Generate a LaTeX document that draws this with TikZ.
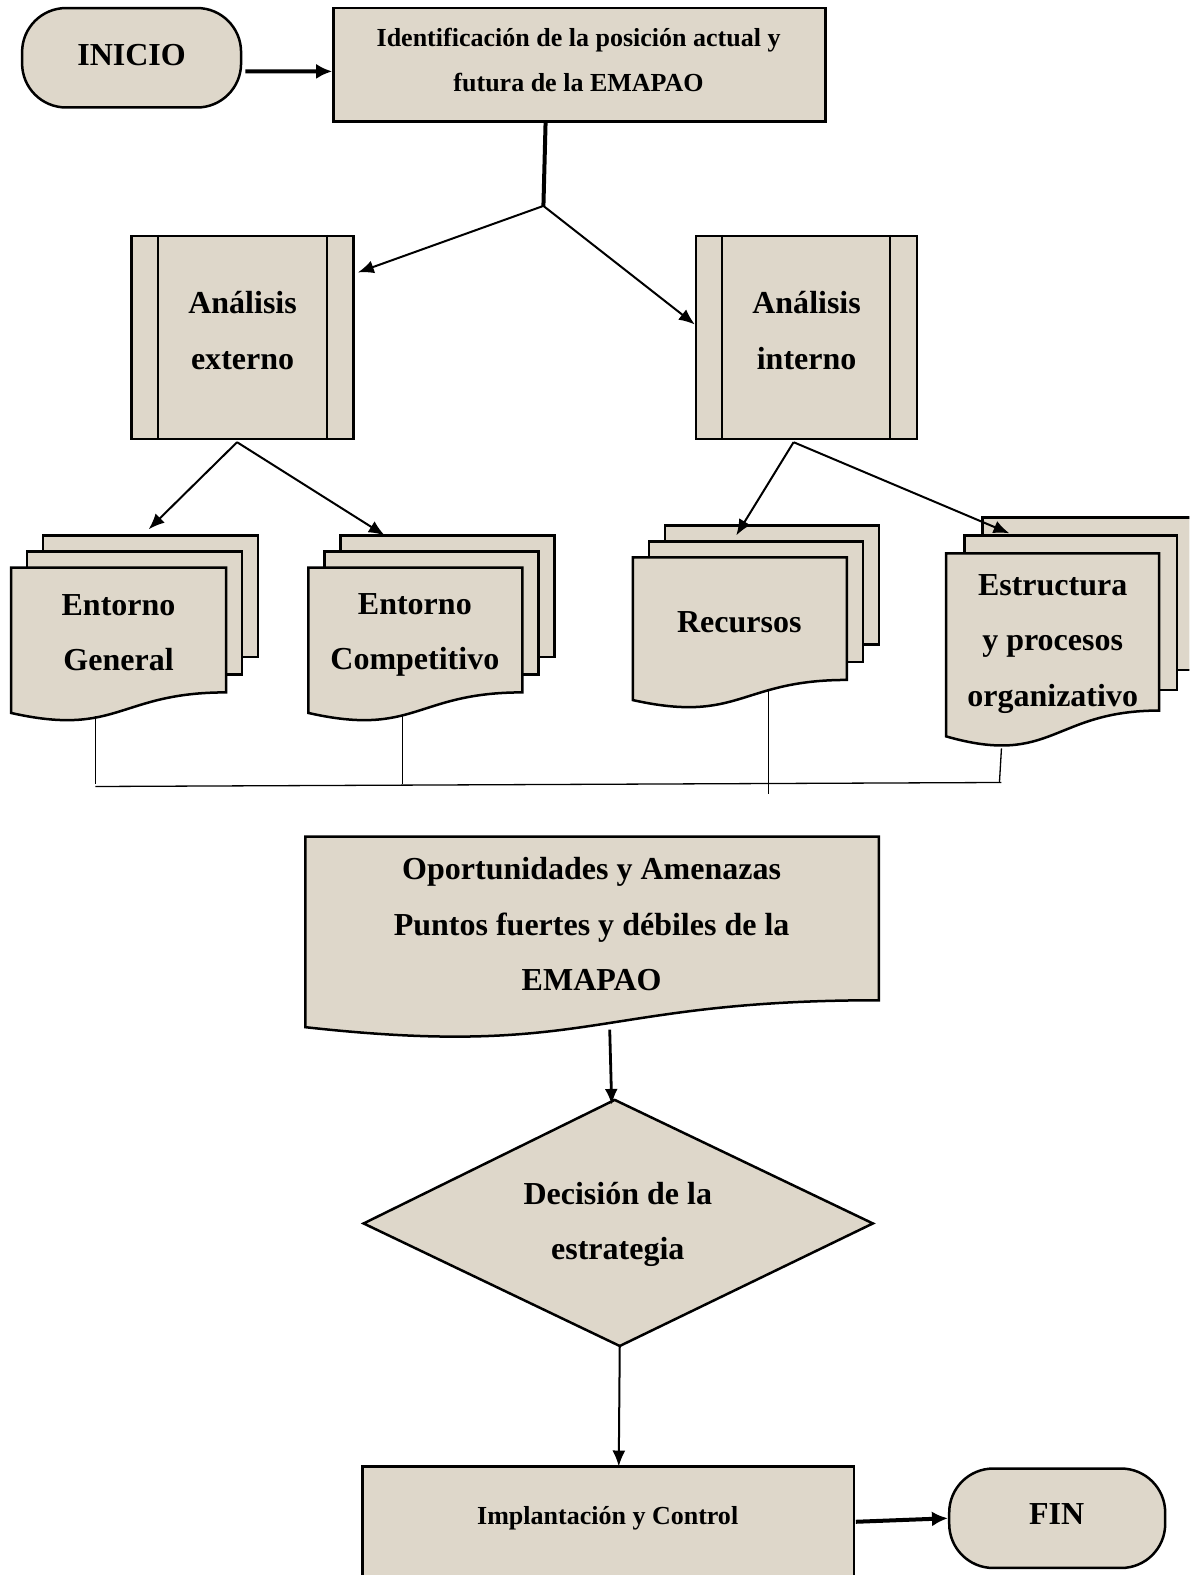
\documentclass[tikz,border=0pt]{standalone}
\usepackage{fontspec}
\setmainfont{Liberation Serif}
\usetikzlibrary{arrows.meta,fit,calc}
\definecolor{paper}{RGB}{222,215,202}

% a stack of three document sheets: name, left x, top y, width, height, offset
\newcommand{\multidoc}[6]{%
  \draw[sheet] ({#2+2*#6},{#3-2*#6}) rectangle ({#2+2*#6+#4},{#3+0.78*#5-2*#6});
  \draw[sheet] ({#2+#6},{#3-#6}) rectangle ({#2+#6+#4},{#3+0.79*#5-#6});
  \docsheet{#1}{#2}{#3}{#4}{#5}}
% a single document sheet with a wavy lower edge
\newcommand{\docsheet}[5]{%
  \draw[sheet] (#2,#3) -- ({#2+#4},#3) -- ({#2+#4},{#3+0.802*#5})
    .. controls ({#2+0.5*#4},{#3+0.802*#5}) and ({#2+0.5*#4},{#3+1.09*#5}) ..
    (#2,{#3+0.934*#5}) -- cycle;
  \coordinate (#1) at ({#2+0.5*#4},{#3+0.45*#5});}

\tikzset{
  sheet/.style={draw=black, line width=1.25pt, fill=paper},
  boxfit/.style={sheet, rectangle, inner sep=0pt},
  term/.style={sheet, rectangle, inner sep=0pt, rounded corners=22pt},
  lbl/.style={font=\bfseries\fontsize{16}{27.6}\selectfont, align=center, inner sep=0pt},
  lblsm/.style={font=\bfseries\fontsize{13}{22.6}\selectfont, align=center, inner sep=0pt},
  flow/.style={line width=1pt, -{Latex[length=8pt,width=6.5pt]}},
  heavy/.style={line width=2pt, -{Latex[length=8pt,width=7.5pt]}},
  tie/.style={line width=0.65pt},
  divider/.style={line width=1.1pt},
}

\begin{document}
\begin{tikzpicture}[x=0.5021pt, y=-0.5021pt]
\useasboundingbox (0,0) rectangle (1184,1568);
\clip (0,0) rectangle (1184,1568);

% start and first step
\node[term, fit={(22,8) (240,107)}] (inicio) {};
\node[lbl] (inicio-t) at (131,55) {INICIO};
\node[boxfit, fit={(332,8) (822,121)}] (ident) {};
\node[lblsm] (ident-t) at (576,59.5) {Identificación de la posición actual y\\futura de la EMAPAO};
\draw[heavy] ([xshift=1.5pt,yshift=-6.8pt]inicio.east) -- ([yshift=-3.3pt]ident.west);

% analysis boxes (predefined process)
\node[boxfit, fit={(131,235) (352,437)}] (ext) {};
\draw[divider] ([xshift=14pt]ext.north west) -- ([xshift=14pt]ext.south west)
  ([xshift=-14pt]ext.north east) -- ([xshift=-14pt]ext.south east);
\node[lbl] (ext-t) at (241.5,329) {Análisis\\externo};
\node[boxfit, fit={(693,235) (913,437)}] (int) {};
\draw[divider] ([xshift=13.5pt]int.north west) -- ([xshift=13.5pt]int.south west)
  ([xshift=-14pt]int.north east) -- ([xshift=-14pt]int.south east);
\node[lbl] (int-t) at (803,329) {Análisis\\interno};

\coordinate (fork) at (541,205);
\draw[line width=2pt] ([xshift=-17pt]ident.south) -- (fork);
\draw[flow] (fork) -- ([xshift=1.5pt,yshift=32.5pt]ext.east);
\draw[flow] (fork) -- ([yshift=6.5pt]int.west);

% document stacks
\multidoc{eg}{11}{565}{214}{155}{16}
\node[lbl] (eg-t) at (118,630) {Entorno\\General};
\multidoc{ec}{307}{565}{213}{155}{16}
\node[lbl] (ec-t) at (413,632) {Entorno\\Competitivo};
\multidoc{rec}{630}{555}{213}{152}{16}
\node[lbl] (rec-t) at (736,619) {Recursos};
\multidoc{est}{942}{551}{212}{195}{18}
\node[lbl] (est-t) at (1048,641) {Estructura\\y procesos\\organizativo};

\coordinate (eg-in) at (148,527);
\coordinate (ec-in) at (383,533);
\coordinate (rec-in) at (733,533);
\coordinate (est-in) at (1005,531);
\draw[flow] ([xshift=-2.75pt,yshift=-1pt]ext.south) -- (eg-in);
\draw[flow] ([xshift=-2.75pt,yshift=-1pt]ext.south) -- (ec-in);
\draw[flow] ([xshift=-6.5pt,yshift=-1pt]int.south) -- (rec-in);
\draw[flow] ([xshift=-6.5pt,yshift=-1pt]int.south) -- (est-in);

% thin collecting lines under the stacks
\coordinate (eg-out) at (95,713);
\coordinate (ec-out) at (401,713);
\coordinate (rec-out) at (765,687);
\coordinate (est-out) at (997,745);
\coordinate (bus-l) at (95,783);
\coordinate (bus-r) at (997,779);
\draw[tie] (eg-out) -- (95,781);
\draw[tie] (ec-out) -- (401,781);
\draw[tie] (bus-l) -- (bus-r);
\draw[tie] (rec-out) -- (765,790);
\draw[tie] (est-out) -- (995,779);

% summary document
\docsheet{opp}{304}{833}{571}{203}
\node[lbl] (opp-t) at (589,920) {Oportunidades y Amenazas\\Puntos fuertes y débiles de la\\EMAPAO};

% decision
\coordinate (dL) at (362,1218);
\coordinate (dT) at (612,1095);
\coordinate (dR) at (869,1218);
\coordinate (dB) at (617,1340);
\draw[sheet] (dL) -- (dT) -- (dR) -- (dB) -- cycle;
\node[lbl] (dec-t) at (615,1219) {Decisión de la\\estrategia};
\coordinate (opp-out) at (607,1025);
\coordinate (dec-in) at (609,1100);
\draw[flow, line width=1.4pt] (opp-out) -- (dec-in);

% implementation and end
\draw[sheet] (361,1460) rectangle (850,1600);
\coordinate (impl-in) at (616,1460);
\node[lblsm] (impl) at (605,1512) {Implantación y Control};
\draw[flow] (dB) -- (impl-in);
\node[term, fit={(945,1462) (1160,1561)}] (fin) {};
\node[lbl] (fin-t) at (1052,1507) {FIN};
\coordinate (impl-out) at (852,1515);
\draw[heavy] (impl-out) -- (fin.west);
\end{tikzpicture}
\end{document}
